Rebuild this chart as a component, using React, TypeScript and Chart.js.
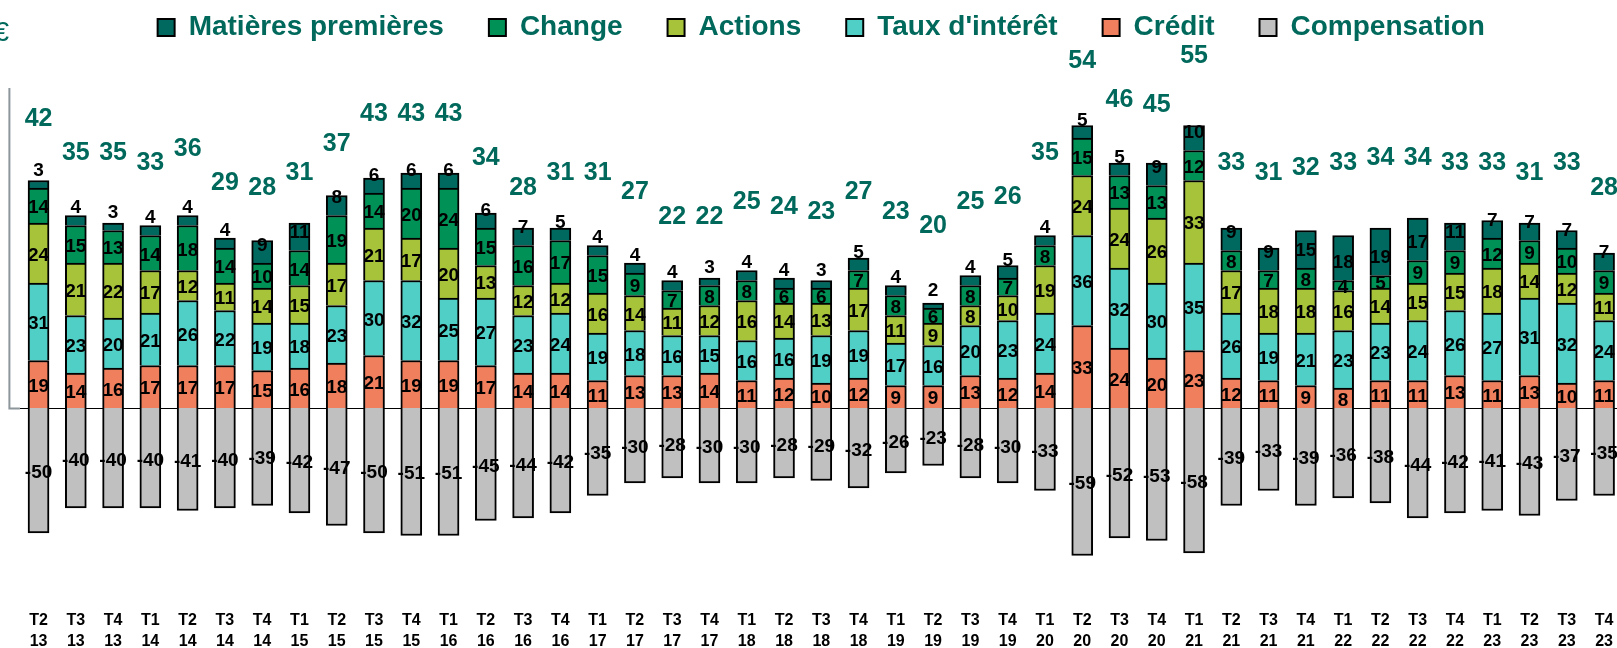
import React, { useEffect, useRef } from "react";
import { Chart, registerables } from "chart.js";

Chart.register(...registerables);

const quarters = ["T2","T3","T4","T1","T2","T3","T4","T1","T2","T3","T4","T1","T2","T3","T4","T1","T2","T3","T4","T1","T2","T3","T4","T1","T2","T3","T4","T1","T2","T3","T4","T1","T2","T3","T4","T1","T2","T3","T4","T1","T2","T3","T4"];
const years = ["13","13","13","14","14","14","14","15","15","15","15","16","16","16","16","17","17","17","17","18","18","18","18","19","19","19","19","20","20","20","20","21","21","21","21","22","22","22","22","23","23","23","23"];

const credit = [19,14,16,17,17,17,15,16,18,21,19,19,17,14,14,11,13,13,14,11,12,10,12,9,9,13,12,14,33,24,20,23,12,11,9,8,11,11,13,11,13,10,11];
const taux = [31,23,20,21,26,22,19,18,23,30,32,25,27,23,24,19,18,16,15,16,16,19,19,17,16,20,23,24,36,32,30,35,26,19,21,23,23,24,26,27,31,32,24];
const actions = [24,21,22,17,12,11,14,15,17,21,17,20,13,12,12,16,14,11,12,16,14,13,17,11,9,8,10,19,24,24,26,33,17,18,18,16,14,15,15,18,14,12,11];
const change = [14,15,13,14,18,14,10,14,19,14,20,24,15,16,17,15,9,7,8,8,6,6,7,8,6,8,7,8,15,13,13,12,8,7,8,4,5,9,9,12,9,10,9];
const matieres = [3,4,3,4,4,4,9,11,8,6,6,6,6,7,5,4,4,4,3,4,4,3,5,4,2,4,5,4,5,5,9,10,9,9,15,18,19,17,11,7,7,7,7];
const compensation = [-50,-40,-40,-40,-41,-40,-39,-42,-47,-50,-51,-51,-45,-44,-42,-35,-30,-28,-30,-30,-28,-29,-32,-26,-23,-28,-30,-33,-59,-52,-53,-58,-39,-33,-39,-36,-38,-44,-42,-41,-43,-37,-35];
const totals = [42,35,35,33,36,29,28,31,37,43,43,43,34,28,31,31,27,22,22,25,24,23,27,23,20,25,26,35,54,46,45,55,33,31,32,33,34,34,33,33,31,33,28];

const seriesNames = ["Crédit", "Taux d'intérêt", "Actions", "Change", "Matières premières", "Compensation"];
const seriesColors = ["#F07F5E", "#50CFC6", "#A6C33A", "#009157", "#00695F", "#C0C0C0"];
const legendRank = [4, 3, 2, 1, 0, 5];

const FONT = "'Liberation Sans', Arial, Helvetica, sans-serif";
const NARROW = "'Liberation Sans Narrow', 'Liberation Sans', Arial, sans-serif";
const TEAL = "#00695C";

// layout targets (pixels) for the two value scales
const Y_ZERO = 408;
const Y_PX = 2.5;
const Y2_ZERO = 324;
const Y2_PX = 4.87;
const AXIS_TOP_VALUE = 128;

function pickLegendFont() {
  try {
    const c = document.createElement("canvas").getContext("2d") as CanvasRenderingContext2D;
    const t = "Matières premières";
    c.font = "bold 100px 'Liberation Sans Narrow', monospace";
    const wn = c.measureText(t).width;
    c.font = "bold 100px monospace";
    const wm = c.measureText(t).width;
    c.font = "bold 100px 'Liberation Sans', monospace";
    const wr = c.measureText(t).width;
    if (Math.abs(wn - wm) > 1 && wn < wr * 0.9) {
      const size = Math.round((252 / (wn / 100)) * 2) / 2;
      return { family: NARROW, size };
    }
  } catch (e) {
    // ignore
  }
  return { family: FONT, size: 28 };
}

const labelPlugin = {
  id: "segmentLabels",
  beforeDatasetsDraw(chart: any) {
    const { ctx, chartArea } = chart;
    const y = chart.scales.y;
    const y0 = Math.round(y.getPixelForValue(0)) + 0.5;
    const yTop = y.getPixelForValue(AXIS_TOP_VALUE);
    ctx.save();
    ctx.strokeStyle = "#000";
    ctx.lineWidth = 1;
    ctx.beginPath();
    ctx.moveTo(chartArea.left, y0);
    ctx.lineTo(chart.width, y0);
    ctx.stroke();
    const ax = chartArea.left - 10.5;
    ctx.strokeStyle = "#8C969B";
    ctx.lineWidth = 2;
    ctx.beginPath();
    ctx.moveTo(ax, yTop);
    ctx.lineTo(ax, y0);
    ctx.lineTo(chartArea.left, y0);
    ctx.stroke();
    ctx.fillStyle = TEAL;
    ctx.font = `28px ${FONT}`;
    ctx.textAlign = "right";
    ctx.textBaseline = "middle";
    ctx.fillText("€", 9, 33);
    ctx.restore();
  },
  afterDatasetsDraw(chart: any) {
    const { ctx } = chart;
    ctx.save();
    ctx.textAlign = "center";
    ctx.textBaseline = "middle";
    ctx.fillStyle = "#000";
    ctx.font = `bold 19px ${FONT}`;
    for (let d = 0; d < 6; d++) {
      const meta = chart.getDatasetMeta(d);
      const data = chart.data.datasets[d].data as number[];
      meta.data.forEach((el: any, i: number) => {
        const v = data[i];
        const top = Math.min(el.y, el.base);
        const bottom = Math.max(el.y, el.base);
        let cy = (top + bottom) / 2 + 2.5;
        if (d === 4) cy = bottom - 17.5;
        ctx.fillText(String(v), el.x, cy);
      });
    }
    const tmeta = chart.getDatasetMeta(6);
    ctx.fillStyle = TEAL;
    ctx.font = `bold 25px ${FONT}`;
    tmeta.data.forEach((el: any, i: number) => {
      ctx.fillText(String(totals[i]), el.x, el.y);
    });
    ctx.restore();
  },
};

export default function App() {
  const ref = useRef<HTMLCanvasElement | null>(null);

  useEffect(() => {
    if (!ref.current) return;
    const lf = pickLegendFont();
    const legendPad = 45 - (lf.size / 2 - 14);
    const topPad = 27.5 - legendPad - lf.size / 2;
    const barSets = [credit, taux, actions, change, matieres, compensation].map((arr, i) => ({
      type: "bar" as const,
      label: seriesNames[i],
      data: arr,
      backgroundColor: seriesColors[i],
      borderColor: "#000",
      borderWidth: 2,
      barThickness: 21,
      stack: "s",
      yAxisID: "y",
    }));
    const chart = new Chart(ref.current, {
      type: "bar",
      data: {
        labels: quarters.map((q, i) => [q, years[i]]),
        datasets: [
          ...barSets,
          {
            type: "line" as const,
            label: "Total",
            data: totals,
            yAxisID: "y2",
            showLine: false,
            pointRadius: 0,
            pointHoverRadius: 0,
            borderColor: "rgba(0,0,0,0)",
            backgroundColor: "rgba(0,0,0,0)",
          } as any,
        ],
      },
      options: {
        responsive: false,
        animation: false,
        layout: { padding: { left: 19.9, right: 17.3, top: topPad, bottom: -7 } },
        plugins: {
          tooltip: { enabled: false },
          legend: {
            position: "top",
            labels: {
              font: { family: lf.family, size: lf.size, weight: "bold" },
              color: TEAL,
              boxWidth: 17,
              boxHeight: 17,
              padding: legendPad,
              filter: (item: any) => item.datasetIndex < 6,
              sort: (a: any, b: any) => legendRank[a.datasetIndex] - legendRank[b.datasetIndex],
            },
          },
        },
        scales: {
          x: {
            stacked: true,
            offset: true,
            grid: { display: false },
            border: { display: false },
            ticks: {
              font: { family: FONT, size: 16, weight: "bold", lineHeight: 1.3125 },
              color: "#000",
              maxRotation: 0,
              autoSkip: false,
              padding: 3,
            },
          },
          y: { display: false, stacked: true, min: -80, max: 140 },
          y2: { display: false, stacked: false, min: -60, max: 55 },
        },
      } as any,
      plugins: [labelPlugin],
    });
    const ca = chart.chartArea;
    const sc: any = chart.options.scales;
    sc.y.max = (Y_ZERO - ca.top) / Y_PX;
    sc.y.min = -(ca.bottom - Y_ZERO) / Y_PX;
    sc.y2.max = (Y2_ZERO - ca.top) / Y2_PX;
    sc.y2.min = -(ca.bottom - Y2_ZERO) / Y2_PX;
    chart.update("none");
    return () => chart.destroy();
  }, []);

  return (
    <div
      style={{
        position: "fixed",
        left: 0,
        top: 0,
        width: 1617,
        height: 648,
        overflow: "hidden",
        background: "#fff",
      }}
    >
      <canvas ref={ref} width={1640} height={648} style={{ display: "block", width: 1640, height: 648 }} />
    </div>
  );
}
